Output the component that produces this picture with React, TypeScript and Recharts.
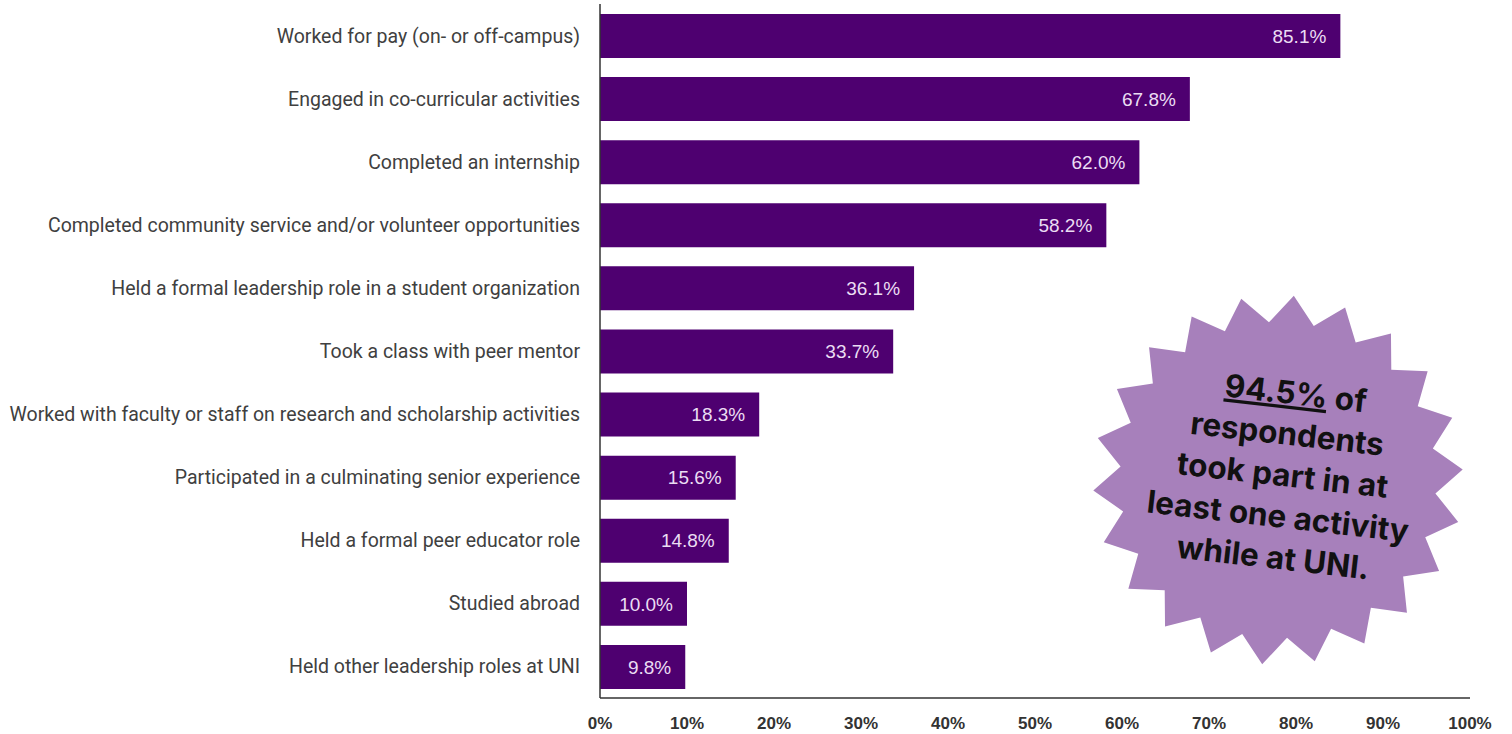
import { BarChart, Bar, XAxis, YAxis, LabelList } from 'recharts';

const activities = [
  'Worked for pay (on- or off-campus)',
  'Engaged in co-curricular activities',
  'Completed an internship',
  'Completed community service and/or volunteer opportunities',
  'Held a formal leadership role in a student organization',
  'Took a class with peer mentor',
  'Worked with faculty or staff on research and scholarship activities',
  'Participated in a culminating senior experience',
  'Held a formal peer educator role',
  'Studied abroad',
  'Held other leadership roles at UNI',
];

const shares = [85.1, 67.8, 62.0, 58.2, 36.1, 33.7, 18.3, 15.6, 14.8, 10.0, 9.8];

const xTicks = [0, 10, 20, 30, 40, 50, 60, 70, 80, 90, 100];

const badgeLines = ['respondents', 'took part in at', 'least one activity', 'while at UNI.'];
const badgeHeadline = '94.5%';

const data = activities.map((name, i) => ({ name, value: shares[i] }));

const PURPLE = '#4E0070';

function CategoryTick(props: any) {
  const { x, y, payload } = props;
  return (
    <text
      x={x}
      y={y}
      dy={7}
      textAnchor="end"
      fill="#404040"
      fontSize={19.5}
      fontFamily="Roboto, 'Liberation Sans', sans-serif"
    >
      {payload.value}
    </text>
  );
}

function Starburst() {
  const cx = 1278;
  const cy = 480;
  const points: string[] = [];
  const n = 22;
  for (let i = 0; i < n * 2; i++) {
    const r = i % 2 === 0 ? 185 : 158;
    const a = (Math.PI * i) / n - Math.PI / 2 - 0.2;
    points.push(`${cx + r * Math.cos(a)},${cy + r * Math.sin(a)}`);
  }
  const font = "Inter, 'Open Sans', sans-serif";
  return (
    <svg width={1512} height={734} style={{ position: 'absolute', left: 0, top: 0, pointerEvents: 'none' }}>
      <polygon points={points.join(' ')} fill="#A780BB" />
      <g transform={`rotate(6.5 ${cx} ${cy})`} fontFamily={font} fontWeight={700} fontSize={31.5} fill="#111" textAnchor="middle">
        <text x={cx + 8} y={cy - 77}>
          <tspan textDecoration="underline">{badgeHeadline}</tspan> of
        </text>
        {badgeLines.map((line, i) => (
          <text key={line} x={cx + 4} y={cy - 36 + i * 41.5}>
            {line}
          </text>
        ))}
      </g>
    </svg>
  );
}

export default function App() {
  return (
    <div style={{ position: 'fixed', left: 0, top: 0, width: 1512, height: 734, background: '#fff' }}>
      <BarChart
        width={1512}
        height={734}
        data={data}
        layout="vertical"
        margin={{ top: 4, right: 42, left: 0, bottom: 0 }}
        barSize={44}
      >
        <XAxis
          type="number"
          domain={[0, 100]}
          ticks={xTicks}
          tickFormatter={(v) => `${v}%`}
          axisLine={{ stroke: '#333', strokeWidth: 1.5 }}
          tickLine={false}
          height={36}
          tickMargin={13}
          tick={{ fill: '#333', fontSize: 17, fontWeight: 700, fontFamily: "'Liberation Sans', Arial, sans-serif" }}
          interval={0}
        />
        <YAxis
          type="category"
          dataKey="name"
          width={600}
          axisLine={{ stroke: '#333', strokeWidth: 1.5 }}
          tickLine={false}
          tickSize={0}
          tickMargin={20}
          tick={<CategoryTick />}
          interval={0}
        />
        <Bar dataKey="value" fill={PURPLE} isAnimationActive={false}>
          <LabelList
            dataKey="value"
            position="insideRight"
            offset={14}
            formatter={(v: any) => `${Number(v).toFixed(1)}%`}
            fill="#EBDDF3"
            fontSize={19}
            fontFamily="'Liberation Sans', Arial, sans-serif"
          />
        </Bar>
      </BarChart>
      <Starburst />
    </div>
  );
}
